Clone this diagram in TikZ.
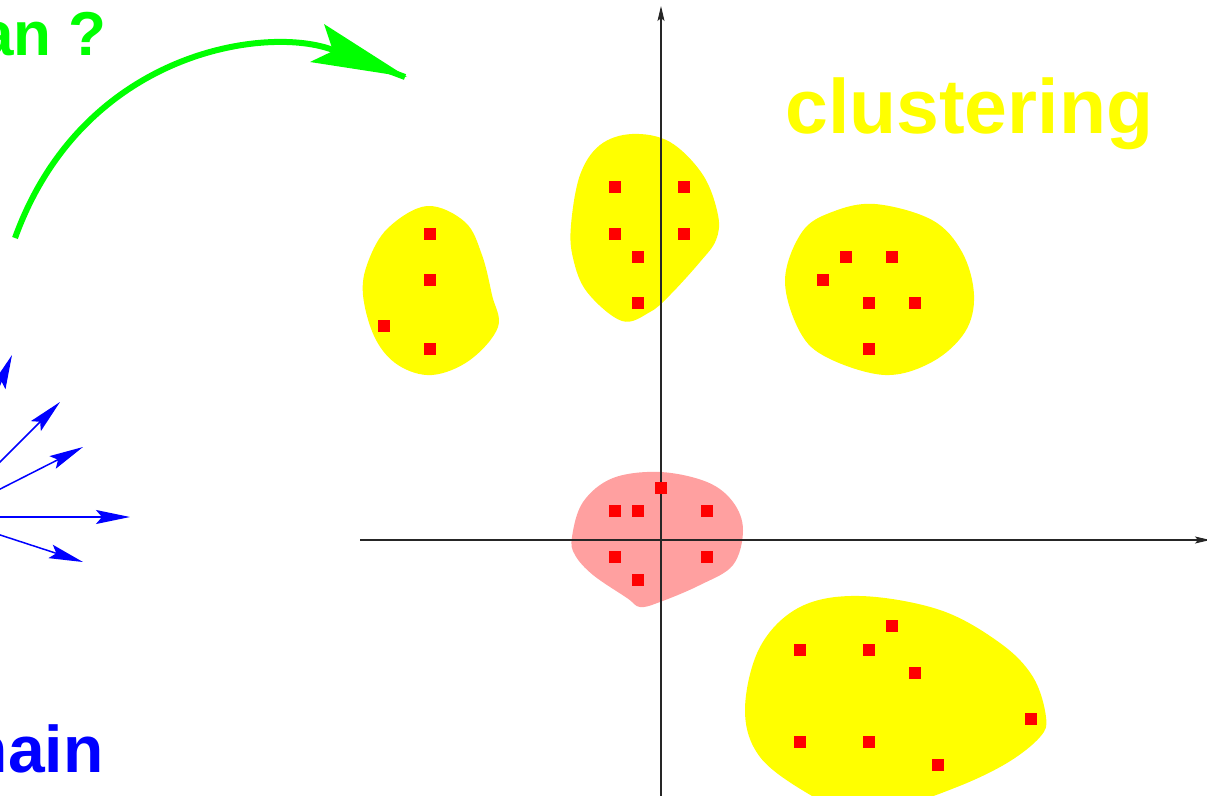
\documentclass[tikz,border=0pt]{standalone}
\usepackage{fontspec}
\setmainfont{Liberation Sans}
\usetikzlibrary{arrows.meta}
\definecolor{blobyellow}{RGB}{255,255,0}
\definecolor{blobpink}{RGB}{255,160,160}
\definecolor{ptred}{RGB}{255,0,0}
\definecolor{arcgreen}{RGB}{0,255,0}
\definecolor{vecblue}{RGB}{0,0,255}
\tikzset{
  blob/.style={fill=blobyellow, draw=none},
  pinkblob/.style={fill=blobpink, draw=none},
  sq/.style={fill=ptred, draw=none, minimum size=12pt, inner sep=0pt, outer sep=0pt},
  axis/.style={draw=black!85, line width=1.1pt, -{Stealth[length=15pt,width=7pt,inset=3pt]}},
  vec/.style={draw=vecblue, line width=1.5pt, -{Stealth[length=34pt,width=14pt,inset=6pt]}},
  bigtext/.style={font=\bfseries\fontsize{#1}{#1}\selectfont, inner sep=0pt},
}
\begin{document}
\begin{tikzpicture}[x=1pt,y=-1pt]
\useasboundingbox (0,0) rectangle (1207,795);
\begin{scope}
\clip (0,0) rectangle (1207,795);
% blobs
\fill[blob] plot[smooth cycle, tension=0.6] coordinates {(427,206) (465,222) (482,255) (492,295) (498,327) (470,360) (432,375) (398,365) (375,338) (363,295) (368,262) (388,228)};
\fill[blob] plot[smooth cycle, tension=0.6] coordinates {(632,134) (670,142) (703,175) (718,215) (716,240) (700,262) (670,295) (650,312) (622,321) (587,292) (573,258) (571,225) (580,175) (600,145)};
\fill[blob] plot[smooth cycle, tension=0.6] coordinates {(875,204) (932,220) (962,252) (974,295) (965,332) (932,362) (885,375) (828,358) (800,332) (785,280) (802,232) (832,212)};
\fill[pinkblob] plot[smooth cycle, tension=0.6] coordinates {(660,472) (707,482) (733,502) (743,530) (733,565) (700,585) (660,602) (640,607) (627,598) (593,575) (575,555) (572,537) (583,502) (613,478)};
\fill[blob] plot[smooth cycle, tension=0.6] coordinates {(860,596) (940,610) (1000,643) (1033,677) (1046,717) (1040,737) (1007,763) (957,787) (900,805) (840,805) (807,793) (760,757) (745,710) (760,647) (800,607)};
% axes
\coordinate (xa) at (360,540);
\coordinate (xb) at (1210,540);
\coordinate (ya) at (661,800);
\coordinate (yb) at (661,6);
\draw[axis] (xa) -- (xb);
\draw[axis] (ya) -- (yb);
% points
\foreach \x/\y [count=\i] in {430/234,430/280,384/326,430/349,
  615/187,684/187,615/234,684/234,638/257,638/303,
  846/257,892/257,823/280,869/303,915/303,869/349,
  661/488,615/511,638/511,707/511,615/557,707/557,638/580,
  892/626,800/650,869/650,915/673,1031/719,800/742,869/742,938/765}
  \node[sq] (p\i) at (\x,\y) {};
% blue vectors
\coordinate (o) at (-55,517);
\coordinate (v1) at (12,355);
\coordinate (v2) at (60,402);
\coordinate (v3) at (83,447);
\coordinate (v4) at (130,517);
\coordinate (v5) at (83,562);
\foreach \v in {v1,v2,v3,v4,v5}
  \draw[vec] (o) -- (\v);
% green arc
\coordinate (g0) at (15,238);
\coordinate (gn) at (333,50);
\coordinate (g1) at (405,77);
\draw[draw=arcgreen, line width=6pt, line join=round]
  (g0) .. controls (83,50) and (268,25) .. (gn) -- (g1);
\fill[arcgreen] (407,77) -- (324,24) -- (333,51) -- (310,62) -- cycle;
% texts
\node[bigtext=62, text=arcgreen, anchor=base east] (t1) at (106.7,55) {an ?};
\node[bigtext=66, text=vecblue, anchor=base east] (t2) at (103.6,772) {nain};
\node[bigtext=77, text=blobyellow, anchor=base west] (t3) at (785,133) {clustering};
\end{scope}
\end{tikzpicture}
\end{document}
